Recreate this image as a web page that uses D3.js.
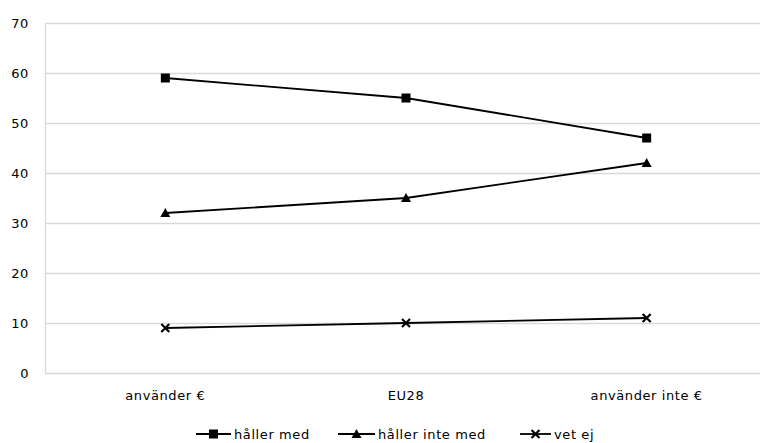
<!DOCTYPE html>
<html>
<head>
<meta charset="utf-8">
<script src="https://cdn.jsdelivr.net/npm/d3@7"></script>
<style>
  html, body { margin: 0; padding: 0; background: #fff; }
  svg text { font-family: "DejaVu Sans", Lato, sans-serif; fill: #000; letter-spacing: 0.6px; }
</style>
</head>
<body>
<svg id="chart" width="760" height="443"></svg>
<script>
const categories = ["använder €", "EU28", "använder inte €"];
const hallerMed = [59, 55, 47];
const hallerInteMed = [32, 35, 42];
const vetEj = [9, 10, 11];
const yTicks = [0, 10, 20, 30, 40, 50, 60, 70];
const seriesNames = ["håller med", "håller inte med", "vet ej"];
const seriesSymbols = ["square", "triangle", "cross"];

const series = [
  { name: seriesNames[0], values: hallerMed, symbol: seriesSymbols[0] },
  { name: seriesNames[1], values: hallerInteMed, symbol: seriesSymbols[1] },
  { name: seriesNames[2], values: vetEj, symbol: seriesSymbols[2] }
];

const svg = d3.select("#chart");
const margin = { left: 45, right: -7, top: 23, bottom: 70 };
const W = 760, H = 443;

const x = d3.scaleBand()
  .domain(categories)
  .range([margin.left, W - margin.right]);
const y = d3.scaleLinear()
  .domain([0, 70])
  .range([H - margin.bottom, margin.top]);

// horizontal gridlines
svg.append("g")
  .selectAll("line")
  .data(yTicks)
  .join("line")
  .attr("x1", margin.left)
  .attr("x2", W - margin.right)
  .attr("y1", d => Math.round(y(d)) + 0.5)
  .attr("y2", d => Math.round(y(d)) + 0.5)
  .attr("stroke", "#d9d9d9")
  .attr("stroke-width", 1.3);

// left axis line
svg.append("line")
  .attr("x1", margin.left + 0.5).attr("x2", margin.left + 0.5)
  .attr("y1", y(70)).attr("y2", y(0))
  .attr("stroke", "#d9d9d9").attr("stroke-width", 1.3);

// y tick labels
svg.append("g")
  .selectAll("text")
  .data(yTicks)
  .join("text")
  .attr("x", 29)
  .attr("y", d => y(d))
  .attr("dy", "0.35em")
  .attr("text-anchor", "end")
  .attr("font-size", 13)
  .text(d => d);

// x category labels
svg.append("g")
  .selectAll("text")
  .data(categories)
  .join("text")
  .attr("x", d => x(d) + x.bandwidth() / 2)
  .attr("y", 400)
  .attr("text-anchor", "middle")
  .attr("font-size", 13)
  .text(d => d);

const cx = (i) => x(categories[i]) + x.bandwidth() / 2;

const line = d3.line()
  .x((d, i) => cx(i))
  .y(d => y(d));

function drawMarker(g, type, px, py) {
  if (type === "square") {
    g.append("rect")
      .attr("x", px - 4.5).attr("y", py - 4.5)
      .attr("width", 9).attr("height", 9)
      .attr("fill", "#000");
  } else if (type === "triangle") {
    g.append("path")
      .attr("d", `M${px},${py - 5}L${px + 5},${py + 4}L${px - 5},${py + 4}Z`)
      .attr("fill", "#000");
  } else {
    g.append("path")
      .attr("d", `M${px - 4},${py - 4}L${px + 4},${py + 4}M${px + 4},${py - 4}L${px - 4},${py + 4}`)
      .attr("stroke", "#000").attr("stroke-width", 2.2).attr("fill", "none");
  }
}

const plot = svg.append("g");
series.forEach(s => {
  plot.append("path")
    .datum(s.values)
    .attr("d", line)
    .attr("fill", "none")
    .attr("stroke", "#000")
    .attr("stroke-width", 1.8);
  const mg = plot.append("g");
  s.values.forEach((v, i) => drawMarker(mg, s.symbol, cx(i), y(v)));
});

// legend
const legendItems = [
  { x0: 196, lw: 35, s: series[0] },
  { x0: 338, lw: 37, s: series[1] },
  { x0: 520, lw: 31, s: series[2] }
];
const ly = 434;
const legend = svg.append("g");
legendItems.forEach(item => {
  legend.append("line")
    .attr("x1", item.x0).attr("x2", item.x0 + item.lw)
    .attr("y1", ly).attr("y2", ly)
    .attr("stroke", "#000").attr("stroke-width", 1.8);
  drawMarker(legend, item.s.symbol, item.x0 + item.lw / 2, ly);
  legend.append("text")
    .attr("x", item.x0 + item.lw + 3)
    .attr("y", ly)
    .attr("dy", "0.35em")
    .attr("font-size", 13)
    .text(item.s.name);
});
</script>
</body>
</html>
